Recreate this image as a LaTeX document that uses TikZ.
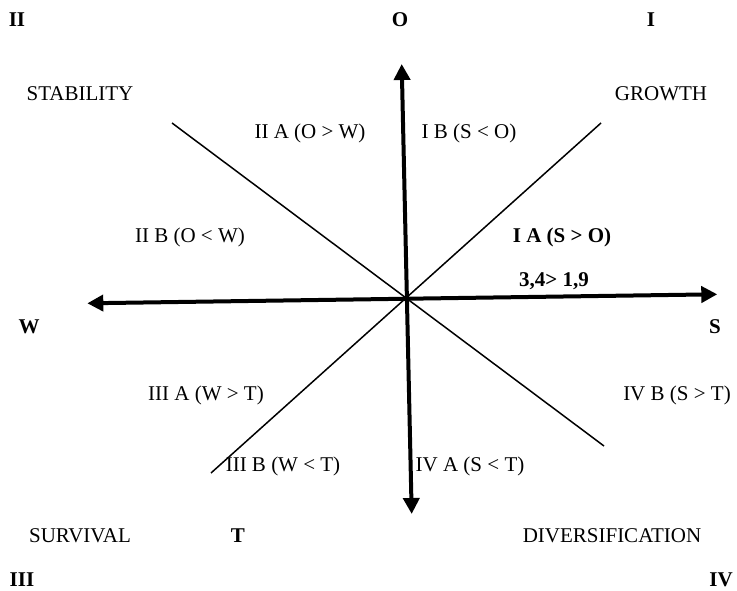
\documentclass[tikz,border=0pt]{standalone}
\usepackage{fontspec}
\setmainfont{Liberation Serif}
\usetikzlibrary{arrows.meta}
\begin{document}
\begin{tikzpicture}[x=1pt,y=-1pt,
  lbl/.style={font=\fontsize{21}{25}\selectfont, inner sep=0pt},
  blbl/.style={font=\fontsize{21}{25}\selectfont\bfseries, inner sep=0pt},
  axisarrow/.style={line width=4pt, {Triangle[length=16pt,width=16pt]}-{Triangle[length=16pt,width=16pt]}},
  diag/.style={line width=1.5pt}]
\useasboundingbox (0,0) rectangle (737,591);
% axis end points
\coordinate (otop) at (401.7,64);
\coordinate (tbot) at (411.7,514);
\coordinate (wleft) at (87.3,303.3);
\coordinate (sright) at (717.3,294.3);
% diagonals
\coordinate (dtl) at (172,123);
\coordinate (dbr) at (604,446);
\coordinate (dtr) at (601,123);
\coordinate (dbl) at (211,473);
\draw[diag] (dtl) -- (dbr);
\draw[diag] (dtr) -- (dbl);
\draw[axisarrow] (tbot) -- (otop);
\draw[axisarrow] (wleft) -- (sright);
% labels
\node[blbl] (qII) at (17,20) {II};
\node[blbl] (lO) at (400,20) {O};
\node[blbl] (qI) at (651,20) {I};
\node[lbl] (stab) at (80,94) {STABILITY};
\node[lbl] (grow) at (661,94) {GROWTH};
\node[lbl] (iia) at (310,133) {II A (O > W)};
\node[lbl] (ib) at (469,133) {I B (S < O)};
\node[lbl] (iib) at (190,237) {II B (O < W)};
\node[blbl] (ia) at (562,237) {I A (S > O)};
\node[blbl] (val) at (554,281) {3,4> 1,9};
\node[blbl] (lW) at (29,327) {W};
\node[blbl] (lS) at (715,327) {S};
\node[lbl] (iiia) at (206,395) {III A (W > T)};
\node[lbl] (ivb) at (677,395) {IV B (S > T)};
\node[lbl] (iiib) at (283,466) {III B (W < T)};
\node[lbl] (iva) at (470,466) {IV A (S < T)};
\node[lbl] (surv) at (80,536) {SURVIVAL};
\node[blbl] (lT) at (238,536) {T};
\node[lbl] (div) at (612,536) {DIVERSIFICATION};
\node[blbl] (qIII) at (22,580) {III};
\node[blbl] (qIV) at (721,580) {IV};
\end{tikzpicture}
\end{document}
